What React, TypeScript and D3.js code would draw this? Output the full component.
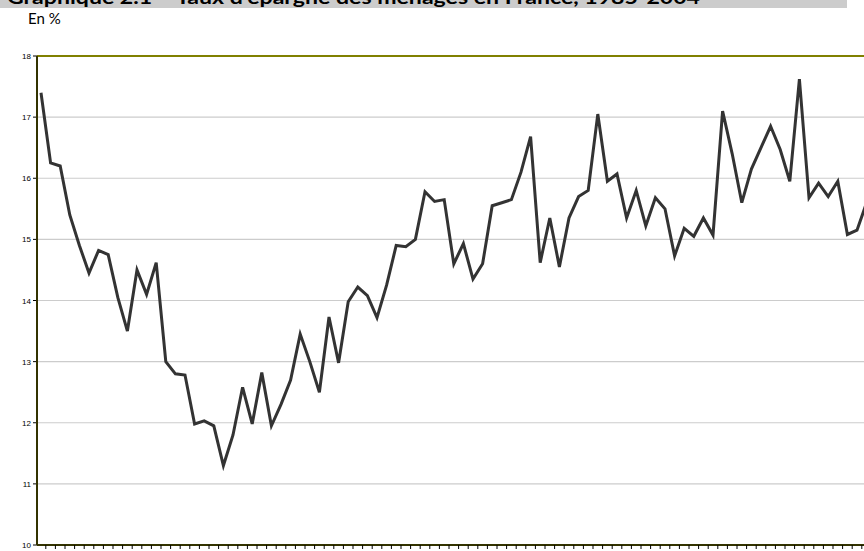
import * as d3 from "d3";

const yTicks = [10, 11, 12, 13, 14, 15, 16, 17, 18];

const savingsRate = [
  17.4, 16.25, 16.2, 15.4, 14.9, 14.45, 14.82, 14.75, 14.05, 13.5,
  14.5, 14.1, 14.62, 13.0, 12.8, 12.78, 11.98, 12.03, 11.95, 11.3,
  11.8, 12.58, 11.98, 12.82, 11.95, 12.3, 12.7, 13.45, 13.0, 12.5,
  13.73, 12.98, 13.98, 14.22, 14.08, 13.72, 14.25, 14.9, 14.88, 15.0,
  15.78, 15.62, 15.65, 14.6, 14.93, 14.35, 14.6, 15.55, 15.6, 15.65,
  16.1, 16.68, 14.62, 15.35, 14.55, 15.35, 15.7, 15.8, 17.05, 15.95,
  16.07, 15.35, 15.8, 15.22, 15.68, 15.5, 14.73, 15.18, 15.05, 15.35,
  15.07, 17.1, 16.4, 15.6, 16.15, 16.5, 16.85, 16.47, 15.95, 17.62,
  15.68, 15.92, 15.7, 15.95, 15.08, 15.15, 15.6,
];

export default function App() {
  const W = 864, H = 551;
  const left = 37, top = 56, bottom = 545;
  const step = 9.6;
  const x = d3.scaleLinear().domain([0, savingsRate.length - 1])
    .range([41, 41 + (savingsRate.length - 1) * step]);
  const y = d3.scaleLinear().domain([10, 18]).range([bottom, top]);
  const line = d3.line<number>().x((_, i) => x(i)).y((d) => y(d));
  const xTicks = d3.range(0, savingsRate.length + 1).map((i) => x(i) - step / 2);

  return (
    <svg width={W} height={H} style={{ position: "absolute", left: 0, top: 0 }}>
      <rect x={0} y={0} width={847} height={8} fill="#cccccc" />
      <text x={7} y={4} fontFamily="Lato, sans-serif" fontWeight="bold" fontSize={19} fill="#000"
        textLength={693} lengthAdjust="spacingAndGlyphs">
        Graphique 2.1 – Taux d'épargne des ménages en France, 1985-2004
      </text>
      <text x={28} y={24} fontFamily="Lato, sans-serif" fontSize={15} fill="#000">En %</text>
      {yTicks.map((t) => (
        <g key={t}>
          {t > 10 && t < 18 && (
            <line x1={left} x2={W} y1={y(t)} y2={y(t)} stroke="#cccccc" strokeWidth={1.2} />
          )}
          <line x1={left - 4} x2={left} y1={y(t)} y2={y(t)} stroke="#000" />
          <text x={left - 6} y={y(t) + 3} textAnchor="end" fontFamily="Arial, sans-serif" fontSize={8} fill="#000">
            {t}
          </text>
        </g>
      ))}
      <line x1={left} x2={W} y1={top} y2={top} stroke="#808000" strokeWidth={2} />
      <line x1={left} x2={W} y1={bottom} y2={bottom} stroke="#333300" strokeWidth={2} />
      <line x1={left} x2={left} y1={top} y2={bottom} stroke="#333300" strokeWidth={2} />
      {xTicks.filter((t) => t > left && t < W).map((t, i) => (
        <line key={i} x1={t} x2={t} y1={bottom} y2={bottom + 4} stroke="#000" />
      ))}
      <path d={line(savingsRate) ?? ""} fill="none" stroke="#333333" strokeWidth={3} strokeLinejoin="miter" />
    </svg>
  );
}
